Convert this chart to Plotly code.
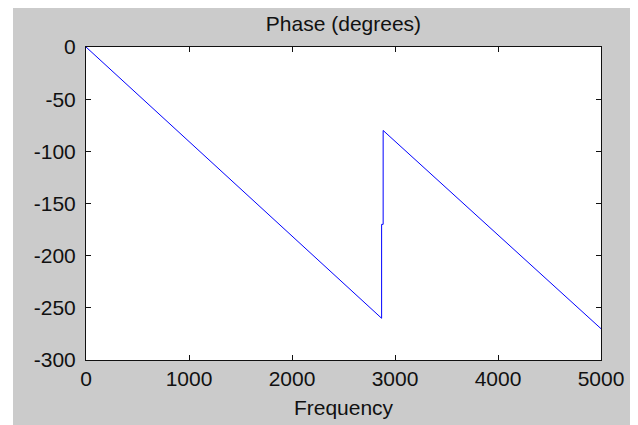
import plotly.graph_objects as go

# phase response
freq = [0, 2870, 2870, 2885, 2885, 5000]
phase = [0, -260, -170, -170, -80, -270]

x_ticks = [0, 1000, 2000, 3000, 4000, 5000]
y_ticks = [0, -50, -100, -150, -200, -250, -300]
# plain hyphen, like the original, not plotly's wide minus sign
y_labels = [str(v) for v in y_ticks]

FONT = "Liberation Sans, Arial, Helvetica, sans-serif"
GRAY = "#cbcbcb"
INK = "#111111"

fig = go.Figure(go.Scatter(
    x=freq, y=phase, mode="lines",
    line={"color": "#0000ff", "width": 1},
    hoverinfo="x+y"))

axis_style = dict(
    showgrid=False, zeroline=False, automargin=False,
    showline=True, linecolor=INK, linewidth=1, mirror="ticks",
    ticks="inside", ticklen=5, tickcolor=INK, tickwidth=1,
    tickfont={"size": 21, "color": INK, "family": FONT},
)

# the page adds an 8px body margin, so the figure is 8px smaller than the
# window and the left/top margins are 8px smaller to keep the axes in place
fig.update_layout(
    width=630, height=417,
    margin={"l": 78, "r": 37, "t": 39, "b": 65},
    paper_bgcolor="white",
    plot_bgcolor="white",
    showlegend=False,
    font={"family": FONT, "color": INK},
    title={"text": "Phase (degrees)", "x": 0.5, "xref": "paper",
           "y": 1 - 16 / 417, "yanchor": "middle",
           "font": {"size": 21, "color": INK, "family": FONT}},
    xaxis=dict(axis_style, range=[0, 5000], tickvals=x_ticks,
               title={"text": "Frequency", "standoff": 11,
                      "font": {"size": 21, "color": INK, "family": FONT}}),
    yaxis=dict(axis_style, range=[-300, 0], tickvals=y_ticks,
               ticktext=y_labels, ticklabelstandoff=5),
    shapes=[
        # grey figure window behind the axes
        dict(type="rect", xref="paper", yref="paper", layer="below",
             x0=-73 / 515, x1=546 / 515, y0=-70 / 313, y1=360 / 313,
             fillcolor=GRAY, line={"width": 0}),
        # white axes box
        dict(type="rect", xref="paper", yref="paper", layer="below",
             x0=0, x1=1, y0=0, y1=1,
             fillcolor="white", line={"width": 0}),
    ],
)

fig.write_html("out.html")
